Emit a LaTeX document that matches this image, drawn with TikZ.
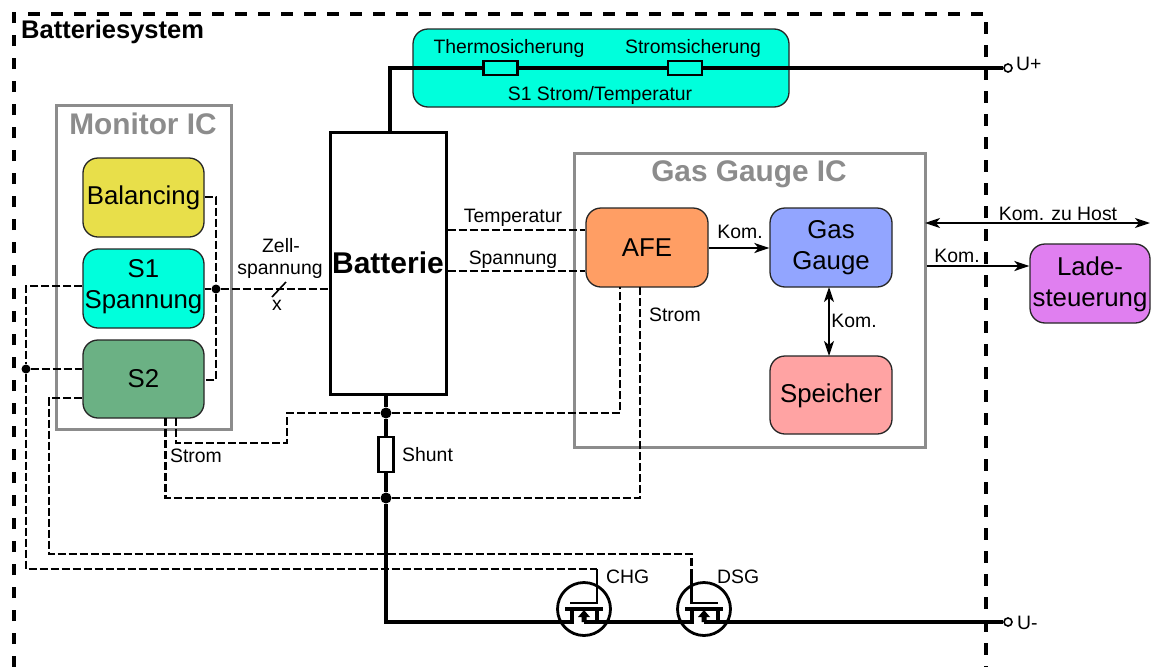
\documentclass[tikz,border=0pt]{standalone}
\usepackage{fontspec}
\setmainfont{Liberation Sans}
\usetikzlibrary{arrows.meta}
\definecolor{cyanbox}{HTML}{00FFDC}
\definecolor{yellowbox}{HTML}{E8DF4A}
\definecolor{greenbox}{HTML}{6BB184}
\definecolor{orangebox}{HTML}{FF9E64}
\definecolor{bluebox}{HTML}{92A5FF}
\definecolor{pinkbox}{HTML}{FFA3A3}
\definecolor{violetbox}{HTML}{E07FF0}
\definecolor{greyline}{HTML}{8C8C8C}
\tikzset{
  rbox/.style={draw=black!85,line width=1.3pt,rounded corners=15pt,inner sep=0pt,align=center,font=\fontsize{25.8}{31}\selectfont,text depth=#1},
  rbox/.default=0pt,
  greybox/.style={draw=greyline,line width=3pt},
  greytitle/.style={font=\fontsize{29.8}{30}\selectfont\bfseries,text=greyline,inner sep=0pt},
  wire/.style={line width=3.3pt,line join=miter},
  dwire/.style={line width=2.3pt,dash pattern=on 8pt off 3pt},
  border/.style={line width=3.6pt,dash pattern=on 11.5pt off 11.5pt},
  junction/.style={circle,fill=black,inner sep=0pt,minimum size=#1},
  terminal/.style={circle,draw=black,line width=1.6pt,fill=white,inner sep=0pt,minimum size=8pt},
  lbl/.style={font=\fontsize{19.4}{20}\selectfont,inner sep=0pt},
  dbl/.style={line width=2pt,{Stealth[length=15pt,width=10pt,inset=4pt]}-{Stealth[length=15pt,width=10pt,inset=4pt]}},
  sgl/.style={line width=2pt,-{Stealth[length=15pt,width=10pt,inset=4pt]}},
  fuse/.style={draw=black,line width=2.4pt,fill=none,inner sep=0pt,minimum width=34pt,minimum height=14pt},
  mosring/.style={circle,draw=black,line width=2.8pt,inner sep=0pt,minimum size=53pt},
}
\begin{document}
\begin{tikzpicture}[x=1pt,y=-1pt]
\useasboundingbox (0,0) rectangle (1152,667);
\fill[white] (0,0) rectangle (1152,667);
% outer border
\coordinate (bl) at (14,667); \coordinate (tl) at (14,14); \coordinate (tr) at (986,14); \coordinate (br) at (986,667);
\draw[border] (bl) -- (tl) -- (tr) -- (br);
\node[anchor=west,font=\fontsize{25.5}{26}\selectfont\bfseries,inner sep=0pt] (title) at (21,31.5) {Batteriesystem};
% grey boxes
\node[greybox,minimum width=175pt,minimum height=324pt,inner sep=0pt] (mon) at (143.5,267) {};
\node[greytitle] (monl) at (143,123.5) {Monitor IC};
\node[greybox,minimum width=351pt,minimum height=294pt,inner sep=0pt] (gg) at (749.5,300) {};
\node[greytitle] (ggl) at (749,174) {Gas Gauge IC};
% top box
\node[rbox,fill=cyanbox,minimum width=376pt,minimum height=78pt] (top) at (601,68) {};
\node[lbl] (thermo) at (509,48) {Thermosicherung};
\node[lbl] (strom) at (693,48) {Stromsicherung};
\node[lbl] (s1st) at (600,95) {S1 Strom/Temperatur};
% function boxes
\node[rbox=5pt,fill=yellowbox,minimum width=121pt,minimum height=79pt] (bal) at (143.5,197.5) {Balancing};
\node[rbox=10pt,fill=cyanbox,minimum width=121pt,minimum height=79pt] (s1) at (143.5,288.5) {S1\\Spannung};
\node[rbox=2pt,fill=greenbox,minimum width=121pt,minimum height=78pt] (s2) at (143.5,379) {S2};
\node[draw=black,line width=3pt,minimum width=116pt,minimum height=262pt,inner sep=0pt,font=\fontsize{30}{30}\selectfont\bfseries] (bat) at (388,263) {Batterie};
\node[rbox=0pt,fill=orangebox,minimum width=122pt,minimum height=79pt] (afe) at (647,247.5) {AFE};
\node[rbox=5pt,fill=bluebox,minimum width=122pt,minimum height=79pt] (ggb) at (831,247.5) {Gas\\Gauge};
\node[rbox=4pt,fill=pinkbox,minimum width=122pt,minimum height=78pt] (sp) at (831,395) {Speicher};
\node[rbox=4pt,fill=violetbox,minimum width=120pt,minimum height=79pt] (lade) at (1090,283.5) {Lade-\\steuerung};
% junctions and terminals
\node[junction=9pt] (j1) at (216,289) {};
\node[junction=9pt] (j2) at (26,369) {};
\node[junction=11pt] (j3) at (386,413) {};
\node[junction=11pt] (j4) at (386,498) {};
\node[terminal] (up) at (1008,68) {};
\node[terminal] (um) at (1008,622) {};
\coordinate (bt) at (390,132);
\coordinate (bb) at (386,394);
% power wires
\draw[wire] (bt) -- (390,68) -- (up.west);
\node[fuse,fill=cyanbox] (f1) at (500.5,68) {};
\node[fuse,fill=cyanbox] (f2) at (685,68) {};
\node[draw=black,fill=white,line width=2.4pt,minimum width=15pt,minimum height=35pt,inner sep=0pt] (sh) at (386,454.5) {};
\draw[wire] (bb) -- (j3) -- (sh.north);
\draw[wire] (sh.south) -- (j4);
% transistors
\node[mosring] (q1) at (584,609) {};
\node[mosring] (q2) at (704,609) {};
\draw[wire] (j4) -- (386,622) -- (572,622) -- (572,609);
\draw[wire] (565,609) -- (603,609);
\draw[wire] (584,622) -- (597,622) -- (597,609);
\draw[wire] (597,622) -- (692,622) -- (692,609);
\draw[wire] (685,609) -- (723,609);
\draw[wire] (704,622) -- (718,622) -- (718,609);
\draw[wire] (718,622) -- (um.west);
\fill (584,610) -- (578,617) -- (581.5,617) -- (581.5,622) -- (586.5,622) -- (586.5,617) -- (590,617) -- cycle;
\fill (704,610) -- (698,617) -- (701.5,617) -- (701.5,622) -- (706.5,622) -- (706.5,617) -- (710,617) -- cycle;
\coordinate (g1) at (597,569);
\coordinate (g2) at (691.5,569);
\draw[line width=2.4pt] (g1) -- (597,603) -- (570,603);
\draw[line width=2.4pt] (g2) -- (691.5,603) -- (718,603);
% dashed signal wires
\draw[dwire] (bal.east |- 0,197) -- (216,197) -- (j1.north);
\draw[dwire] (j1.south) -- (216,380) -- (s2.east |- 0,380);
\draw[dwire] (s1.east |- 0,289) -- (j1) -- (bat.west |- 0,289);
\draw[dwire] (s1.west |- 0,286) -- (26,286) -- (j2.north);
\draw[dwire] (j2.south) -- (26,569) -- (g1);
\draw[dwire] (j2) -- (s2.west |- 0,369);
\draw[dwire] (s2.west |- 0,398) -- (49,398) -- (49,554) -- (691.5,554) -- (g2);
\draw[dwire] (176,418) -- (176,443) -- (287,443) -- (287,413) -- (j3) -- (620,413) -- (620,287);
\draw[dwire] (165.5,418) -- (165.5,498) -- (j4) -- (640,498) -- (640,287);
\draw[dwire] (bat.east |- 0,230) -- (afe.west |- 0,230);
\draw[dwire] (bat.east |- 0,271) -- (afe.west |- 0,271);
% slash
\coordinate (sa) at (272,297); \coordinate (sb) at (286,282);
\draw[line width=1.6pt] (sa) -- (sb);
% comms
\draw[sgl] (afe.east |- 0,248) -- (ggb.west |- 0,248);
\draw[dbl] (829,287) -- (829,356);
\draw[dbl] (925,223) -- (1150,223);
\draw[sgl] (gg.east |- 0,266) -- (lade.west |- 0,266);
% labels
\node[lbl] (t1) at (281,246) {Zell-};
\node[lbl] (t2) at (280,271) {spannung};
\node[lbl] (t3) at (277,305) {x};
\node[lbl] at (513,218) {Temperatur};
\node[lbl] at (513,260) {Spannung};
\node[lbl] at (740,232) {Kom.};
\node[lbl] at (675,315) {Strom};
\node[lbl] at (854,321) {Kom.};
\node[lbl] at (1058,214) {Kom. zu Host};
\node[lbl] at (957,256) {Kom.};
\node[lbl] at (196,456) {Strom};
\node[lbl,anchor=west] at (402,455) {Shunt};
\node[lbl,anchor=west] at (606,577) {CHG};
\node[lbl,anchor=west] at (717,577) {DSG};
\node[lbl,anchor=west] at (1016,64) {U+};
\node[lbl,anchor=west] at (1017,623) {U-};
\end{tikzpicture}
\end{document}
